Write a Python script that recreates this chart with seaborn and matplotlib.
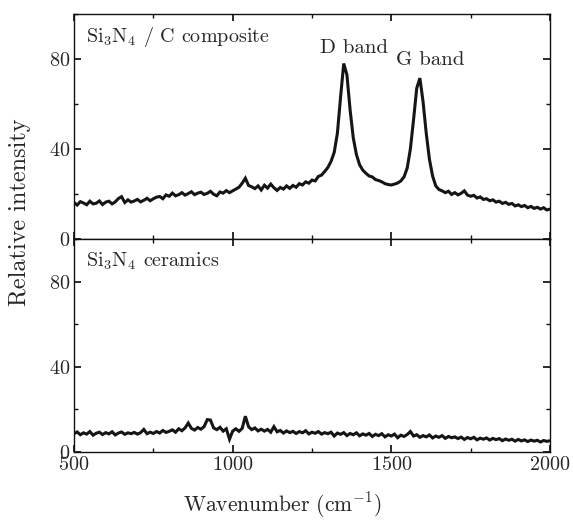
import numpy as np
import pandas as pd
import matplotlib
matplotlib.use("Agg")
import matplotlib.pyplot as plt
import seaborn as sns
from matplotlib.ticker import MultipleLocator

# ---- data ----
wavenumber = np.arange(500, 2001, 10)

composite = [
    16.2, 15.1, 16.6, 16.0, 15.2, 16.8, 15.6, 15.9, 16.9, 15.3,   # 500-590
    16.4, 16.8, 15.6, 16.5, 18.0, 18.8, 16.2, 17.4, 16.4, 16.9,   # 600-690
    17.6, 16.5, 17.2, 18.1, 17.0, 17.9, 18.6, 18.9, 17.9, 19.6,   # 700-790
    19.0, 20.4, 19.2, 19.7, 20.6, 19.5, 20.2, 21.0, 19.7, 20.4,   # 800-890
    20.8, 19.8, 20.3, 21.2, 19.9, 19.2, 20.9, 20.4, 21.5, 20.6,   # 900-990
    21.4, 22.2, 23.0, 24.8, 27.0, 23.8, 23.2, 22.4, 23.6, 21.8,   # 1000-1090
    23.9, 22.6, 24.4, 22.8, 21.6, 22.9, 22.2, 23.6, 22.5, 23.8,   # 1100-1190
    23.0, 24.6, 24.0, 25.4, 24.8, 26.2, 25.8, 27.8, 28.4, 30.0,   # 1200-1290
    31.8, 34.5, 38.5, 47.0, 63.0, 78.0, 73.0, 57.5, 45.0, 37.5,   # 1300-1390
    33.0, 30.6, 29.2, 28.0, 27.6, 26.4, 26.0, 25.4, 24.6, 24.2,   # 1400-1490
    24.0, 24.4, 24.9, 25.8, 27.6, 31.5, 40.0, 53.0, 67.0, 71.5,   # 1500-1590
    61.0, 47.0, 35.5, 28.0, 23.6, 22.0, 21.4, 20.6, 21.2, 19.8,   # 1600-1690
    20.6, 19.6, 20.3, 21.4, 19.5, 19.0, 19.4, 18.2, 18.7, 17.6,   # 1700-1790
    17.9, 17.0, 17.4, 16.4, 16.8, 15.8, 16.3, 15.4, 15.8, 14.7,   # 1800-1890
    15.2, 14.4, 14.9, 13.9, 14.5, 13.6, 14.1, 13.3, 13.9, 12.9,   # 1900-1990
    13.3,                                                         # 2000
]

ceramics = [
    8.6, 9.4, 8.1, 9.0, 8.4, 9.6, 7.9, 8.8, 9.3, 8.2,             # 500-590
    9.1, 8.5, 9.5, 8.0, 8.9, 9.4, 8.3, 9.0, 8.6, 9.2,             # 600-690
    8.4, 9.1, 10.6, 8.6, 9.3, 8.7, 9.6, 8.9, 10.1, 9.2,           # 700-790
    9.7, 10.4, 9.3, 10.9, 10.0, 11.3, 13.6, 11.1, 10.3, 11.5,     # 800-890
    10.7, 11.9, 15.2, 15.0, 11.3, 10.5, 11.6, 9.8, 10.9, 6.0,     # 900-990
    9.8, 10.9, 9.7, 11.1, 16.8, 11.9, 10.5, 11.3, 9.9, 10.7,      # 1000-1090
    9.8, 10.6, 9.3, 11.9, 9.5, 10.1, 8.9, 9.9, 9.1, 9.7,          # 1100-1190
    8.7, 9.6, 9.0, 10.0, 8.5, 9.3, 8.8, 9.6, 8.4, 9.1,            # 1200-1290
    8.6, 9.3, 7.5, 8.9, 8.3, 9.1, 7.7, 8.7, 8.1, 9.0,             # 1300-1390
    7.6, 8.5, 7.9, 8.7, 7.3, 8.3, 7.7, 8.6, 7.1, 8.1,             # 1400-1490
    7.5, 8.4, 6.7, 7.9, 7.3, 8.2, 9.6, 7.5, 8.1, 6.9,             # 1500-1590
    7.7, 7.1, 8.0, 6.6, 7.5, 6.9, 7.7, 6.4, 7.3, 6.7,             # 1600-1690
    7.1, 6.3, 7.0, 5.9, 6.8, 6.2, 6.9, 5.7, 6.5, 6.0,             # 1700-1790
    6.6, 5.6, 6.4, 5.8, 6.3, 5.3, 6.1, 5.5, 6.0, 5.1,             # 1800-1890
    5.9, 5.2, 5.7, 4.9, 5.6, 5.1, 5.5, 4.7, 5.4, 5.0,             # 1900-1990
    5.3,                                                          # 2000
]

panel_labels = [r"Si$_3$N$_4$ / C composite", r"Si$_3$N$_4$ ceramics"]
band_labels = ["D band", "G band"]
x_ticks = [500, 1000, 1500, 2000]
y_ticks = [0, 40, 80]

# ---- style ----
sns.set_theme(style="ticks")
plt.rcParams.update({
    "font.family": ["cmr10", "DejaVu Serif"],
    "mathtext.fontset": "cm",
    "axes.formatter.use_mathtext": True,
    "axes.unicode_minus": False,
    "xtick.direction": "in",
    "ytick.direction": "in",
    "xtick.top": True,
    "ytick.right": True,
    "xtick.minor.visible": True,
    "ytick.minor.visible": True,
    "xtick.major.size": 5,
    "ytick.major.size": 5,
    "xtick.minor.size": 3,
    "ytick.minor.size": 3,
    "axes.linewidth": 1.0,
    "axes.edgecolor": "#111111",
})

txt = "#262626"
fig = plt.figure(figsize=(5.73, 5.22), dpi=100)
left, right = 74 / 573, 550 / 573
top_y, mid_y, bot_y = 14 / 522, 239 / 522, 452 / 522
ax1 = fig.add_axes([left, 1 - mid_y, right - left, mid_y - top_y])
ax2 = fig.add_axes([left, 1 - bot_y, right - left, bot_y - mid_y], sharex=ax1)

df1 = pd.DataFrame({"wavenumber": wavenumber, "intensity": composite})
df2 = pd.DataFrame({"wavenumber": wavenumber, "intensity": ceramics})

line_color = "#151515"
sns.lineplot(data=df1, x="wavenumber", y="intensity", ax=ax1, color=line_color,
             lw=2.2, solid_joinstyle="miter")
sns.lineplot(data=df2, x="wavenumber", y="intensity", ax=ax2, color=line_color,
             lw=2.2, solid_joinstyle="miter")

label_y = [0.876, 0.869]
for ax, lab, ly in zip([ax1, ax2], panel_labels, label_y):
    ax.set_xlim(500, 2000)
    ax.set_ylim(0, 100)
    ax.set_xticks(x_ticks)
    ax.set_yticks(y_ticks)
    ax.xaxis.set_minor_locator(MultipleLocator(250))
    ax.yaxis.set_minor_locator(MultipleLocator(20))
    ax.set_xlabel("")
    ax.set_ylabel("")
    ax.tick_params(which="both", colors="#111111", labelcolor=txt)
    ax.tick_params(labelsize=14.5, pad=3)
    for s in ax.spines.values():
        s.set_visible(True)
    ax.text(0.025, ly, lab, transform=ax.transAxes, fontsize=14.5,
            va="baseline", ha="left", color=txt)

ax1.tick_params(labelbottom=False)
ax1.text(1382, 82.7, band_labels[0], fontsize=15, ha="center", va="baseline", color=txt)
ax1.text(1622, 77.3, band_labels[1], fontsize=15, ha="center", va="baseline", color=txt)

fig.text(282 / 573, 1 - 512 / 522, r"Wavenumber (cm$^{-1}$)", fontsize=15.5,
         ha="center", va="baseline", color=txt)
fig.text(20 / 573, 1 - 212 / 522, "Relative intensity", rotation=90,
         fontsize=17.5, ha="center", va="center", color=txt)

fig.savefig("out.png", dpi=100)
